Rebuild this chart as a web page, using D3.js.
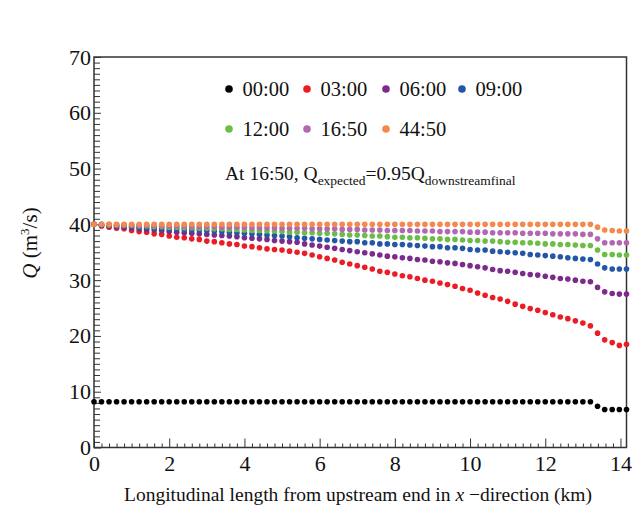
<!DOCTYPE html>
<html>
  <head>
    <meta charset="utf-8">
    <title>Discharge along the channel</title>
    <script src="https://d3js.org/d3.v7.min.js"></script>
    <style>
      body{
        margin: 0;
        background: #fff;
      }
      svg text{
        font-family: "Liberation Serif", "Times New Roman", serif;
        fill: #111;
      }
    </style>
  </head>
  <body>
    <div id="container"></div>
    <script>

      // DATA
      const seriesNames = ["00:00", "03:00", "06:00", "09:00", "12:00", "16:50", "44:50"];
      const seriesColors = ["#000000", "#ec1c24", "#7c2a8c", "#2356a6", "#6cbd45", "#b267b3", "#f5894b"];

      const xKm = [
        0, 0.2, 0.4, 0.6, 0.8, 1.0, 1.2, 1.4, 1.6, 1.8,
        2.0, 2.2, 2.4, 2.6, 2.8, 3.0, 3.2, 3.4, 3.6, 3.8,
        4.0, 4.2, 4.4, 4.6, 4.8, 5.0, 5.2, 5.4, 5.6, 5.8,
        6.0, 6.2, 6.4, 6.6, 6.8, 7.0, 7.2, 7.4, 7.6, 7.8,
        8.0, 8.2, 8.4, 8.6, 8.8, 9.0, 9.2, 9.4, 9.6, 9.8,
        10.0, 10.2, 10.4, 10.6, 10.8, 11.0, 11.2, 11.4, 11.6, 11.8,
        12.0, 12.2, 12.4, 12.6, 12.8, 13.0, 13.2,
        13.39, 13.58, 13.78, 13.97, 14.16
      ];

      const q0000 = [
        8.2, 8.2, 8.2, 8.2, 8.2, 8.2, 8.2, 8.2, 8.2, 8.2,
        8.2, 8.2, 8.2, 8.2, 8.2, 8.2, 8.2, 8.2, 8.2, 8.2,
        8.2, 8.2, 8.2, 8.2, 8.2, 8.2, 8.2, 8.2, 8.2, 8.2,
        8.2, 8.2, 8.2, 8.2, 8.2, 8.2, 8.2, 8.2, 8.2, 8.2,
        8.2, 8.2, 8.2, 8.2, 8.2, 8.2, 8.2, 8.2, 8.2, 8.2,
        8.2, 8.2, 8.2, 8.2, 8.2, 8.2, 8.2, 8.2, 8.2, 8.2,
        8.2, 8.2, 8.2, 8.2, 8.2, 8.2, 8.2,
        7.4, 6.8, 6.8, 6.8, 6.8
      ];
      const q0300 = [
        40.0, 39.7, 39.5, 39.3, 39.2, 38.9, 38.7, 38.6, 38.3, 38.2,
        37.9, 37.7, 37.6, 37.4, 37.3, 37.0, 36.9, 36.7, 36.5, 36.4,
        36.1, 36.0, 35.8, 35.6, 35.5, 35.4, 35.2, 35.0, 34.8, 34.5,
        34.2, 33.9, 33.6, 33.2, 32.9, 32.6, 32.3, 32.0, 31.6, 31.4,
        31.1, 30.8, 30.6, 30.3, 30.0, 29.8, 29.5, 29.2, 28.9, 28.5,
        28.2, 27.7, 27.3, 26.9, 26.6, 26.2, 25.7, 25.3, 24.9, 24.6,
        24.2, 23.8, 23.4, 23.1, 22.7, 22.3, 21.8,
        20.5, 19.3, 18.8, 18.3, 18.5
      ];
      const q0600 = [
        40.0, 39.8, 39.7, 39.6, 39.5, 39.4, 39.2, 39.1, 39.0, 38.9,
        38.7, 38.6, 38.5, 38.4, 38.3, 38.2, 38.1, 38.0, 37.9, 37.8,
        37.6, 37.5, 37.4, 37.3, 37.1, 37.0, 36.9, 36.8, 36.5, 36.3,
        36.1, 35.9, 35.7, 35.5, 35.3, 35.1, 34.9, 34.7, 34.5, 34.3,
        34.2, 34.0, 33.9, 33.7, 33.6, 33.4, 33.3, 33.1, 33.0, 32.8,
        32.6, 32.4, 32.2, 31.9, 31.7, 31.6, 31.4, 31.2, 31.0, 30.9,
        30.7, 30.5, 30.3, 30.2, 30.0, 29.8, 29.7,
        28.7, 27.9, 27.6, 27.5, 27.5
      ];
      const q0900 = [
        40.0, 39.9, 39.8, 39.7, 39.7, 39.6, 39.5, 39.4, 39.4, 39.3,
        39.2, 39.2, 39.1, 39.0, 39.0, 38.9, 38.8, 38.7, 38.6, 38.5,
        38.4, 38.3, 38.2, 38.1, 38.0, 37.9, 37.8, 37.6, 37.5, 37.4,
        37.3, 37.2, 37.1, 37.0, 36.9, 36.9, 36.7, 36.7, 36.5, 36.5,
        36.4, 36.4, 36.3, 36.2, 36.1, 36.0, 36.0, 35.8, 35.8, 35.7,
        35.5, 35.4, 35.4, 35.2, 35.1, 35.0, 34.9, 34.8, 34.6, 34.5,
        34.4, 34.3, 34.2, 34.0, 33.9, 33.8, 33.7,
        32.9, 32.2, 32.0, 32.0, 32.0
      ];
      const q1200 = [
        40.0, 40.0, 39.9, 39.9, 39.8, 39.8, 39.7, 39.7, 39.6, 39.6,
        39.5, 39.5, 39.4, 39.4, 39.3, 39.3, 39.2, 39.2, 39.1, 39.1,
        39.0, 38.9, 38.9, 38.8, 38.8, 38.7, 38.6, 38.6, 38.5, 38.5,
        38.4, 38.4, 38.3, 38.2, 38.1, 38.1, 38.0, 37.9, 37.9, 37.8,
        37.7, 37.7, 37.6, 37.6, 37.5, 37.4, 37.4, 37.3, 37.3, 37.2,
        37.1, 37.1, 37.0, 37.0, 36.9, 36.8, 36.8, 36.7, 36.7, 36.6,
        36.5, 36.5, 36.4, 36.4, 36.3, 36.2, 36.2,
        35.4, 34.6, 34.6, 34.5, 34.5
      ];
      const q1650 = [
        40.0, 40.0, 40.0, 39.9, 39.9, 39.9, 39.8, 39.8, 39.8, 39.8,
        39.7, 39.7, 39.7, 39.6, 39.6, 39.6, 39.6, 39.5, 39.5, 39.5,
        39.5, 39.4, 39.4, 39.4, 39.4, 39.3, 39.3, 39.3, 39.3, 39.2,
        39.2, 39.2, 39.2, 39.1, 39.1, 39.1, 39.0, 39.0, 39.0, 38.9,
        38.9, 38.9, 38.9, 38.8, 38.8, 38.8, 38.7, 38.7, 38.7, 38.7,
        38.6, 38.6, 38.6, 38.5, 38.5, 38.5, 38.5, 38.4, 38.4, 38.4,
        38.4, 38.3, 38.3, 38.3, 38.3, 38.2, 38.2,
        37.4, 36.7, 36.7, 36.7, 36.7
      ];
      const q4450 = [
        40.0, 40.0, 40.0, 40.0, 40.0, 40.0, 40.0, 40.0, 40.0, 40.0,
        40.0, 40.0, 40.0, 40.0, 40.0, 40.0, 40.0, 40.0, 40.0, 40.0,
        40.0, 40.0, 40.0, 40.0, 40.0, 40.0, 40.0, 40.0, 40.0, 40.0,
        40.0, 40.0, 40.0, 40.0, 40.0, 40.0, 40.0, 40.0, 40.0, 40.0,
        40.0, 40.0, 40.0, 40.0, 40.0, 40.0, 40.0, 40.0, 40.0, 40.0,
        40.0, 40.0, 40.0, 40.0, 40.0, 40.0, 40.0, 40.0, 40.0, 40.0,
        40.0, 40.0, 40.0, 40.0, 40.0, 40.0, 40.0,
        39.5, 39.0, 38.9, 38.8, 38.8
      ];
      const seriesValues = [q0000, q0300, q0600, q0900, q1200, q1650, q4450];

      const xTicks = [0, 2, 4, 6, 8, 10, 12, 14];
      const yTicks = [0, 10, 20, 30, 40, 50, 60, 70];

      const FONT = "Liberation Serif, Times New Roman, serif";

      // SET DIMENSIONS & MARGINS
      const W = 643, H = 508;
      const margin = { top: 57, right: 16.5, bottom: 60.5, left: 94 },
        width = W - margin.left - margin.right,
        height = H - margin.top - margin.bottom;

      const svg = d3.select("#container")
        .append("svg")
        .attr("width", W)
        .attr("height", H)
        .attr("font-family", FONT);

      const g = svg.append("g")
        .attr("transform", "translate(" + margin.left + "," + margin.top + ")");

      // SCALES
      const x = d3.scaleLinear().domain([0, 14.16]).range([0, width]);
      const y = d3.scaleLinear().domain([0, 70]).range([height, 0]);

      // MINOR TICKS (inward)
      g.append("g")
        .attr("transform", "translate(0," + height + ")")
        .call(d3.axisBottom(x)
          .tickValues(d3.range(0, 14.1, 0.2).filter(v => Math.abs(v / 2 - Math.round(v / 2)) > 0.01))
          .tickSize(-4).tickSizeOuter(0).tickFormat(""))
        .call(a => a.select(".domain").remove());

      g.append("g")
        .call(d3.axisLeft(y)
          .tickValues(d3.range(1, 70, 1).filter(v => v % 10 !== 0))
          .tickSize(-6).tickSizeOuter(0).tickFormat(""))
        .call(a => a.select(".domain").remove());

      // MAJOR TICKS + LABELS
      const xAxis = g.append("g")
        .attr("transform", "translate(0," + height + ")")
        .call(d3.axisBottom(x).tickValues(xTicks).tickSize(-9).tickSizeOuter(0).tickPadding(8))
        .call(a => a.select(".domain").remove());
      xAxis.attr("font-family", FONT).attr("font-size", 22);
      xAxis.selectAll("text").attr("fill", "#111");

      const yAxis = g.append("g")
        .call(d3.axisLeft(y).tickValues(yTicks).tickSize(-7).tickSizeOuter(0).tickPadding(3))
        .call(a => a.select(".domain").remove());
      yAxis.attr("font-family", FONT).attr("font-size", 22);
      yAxis.selectAll("text").attr("fill", "#111");

      g.selectAll(".tick line").attr("stroke", "#333").attr("stroke-width", 1);

      // FRAME
      g.append("rect")
        .attr("x", 0).attr("y", 0)
        .attr("width", width).attr("height", height)
        .attr("fill", "none")
        .attr("stroke", "#333")
        .attr("stroke-width", 1.5);

      // POINTS
      seriesValues.forEach((vals, si) => {
        g.append("g")
          .selectAll("circle")
          .data(vals.map((v, i) => ({ x: xKm[i], q: v })))
          .enter()
          .append("circle")
          .attr("cx", d => x(d.x))
          .attr("cy", d => y(d.q))
          .attr("r", 2.8)
          .attr("fill", seriesColors[si]);
      });

      // LEGEND
      const legendX = [229, 307, 386, 462];
      const legendY = [89, 129];
      seriesNames.forEach((name, i) => {
        const cx = legendX[i % 4], cy = legendY[Math.floor(i / 4)];
        svg.append("circle")
          .attr("cx", cx).attr("cy", cy).attr("r", 3.8)
          .attr("fill", seriesColors[i]);
        svg.append("text")
          .attr("x", cx + 13.5).attr("y", cy + 7)
          .attr("font-size", 20.5)
          .text(name);
      });

      // ANNOTATION
      const note = svg.append("text")
        .attr("x", 225).attr("y", 180)
        .attr("font-size", 19.5);
      note.append("tspan").text("At 16:50, Q");
      note.append("tspan").attr("font-size", 13.5).attr("dy", 5).text("expected");
      note.append("tspan").attr("dy", -5).text("=0.95Q");
      note.append("tspan").attr("font-size", 13.5).attr("dy", 5).text("downstreamfinal");

      // AXIS TITLES
      const xt = svg.append("text")
        .attr("x", 358).attr("y", 501)
        .attr("text-anchor", "middle")
        .attr("font-size", 19.5);
      xt.append("tspan").text("Longitudinal length from upstream end in ");
      xt.append("tspan").attr("font-style", "italic").text("x");
      xt.append("tspan").text(" \u2212direction (km)");

      const yt = svg.append("text")
        .attr("transform", "translate(37,243) rotate(-90)")
        .attr("text-anchor", "middle")
        .attr("font-size", 21);
      yt.append("tspan").attr("font-style", "italic").text("Q");
      yt.append("tspan").text(" (m");
      yt.append("tspan").attr("font-size", 13).attr("dy", -8).text("3");
      yt.append("tspan").attr("dy", 8).text("/s)");

    </script>
  </body>
</html>
